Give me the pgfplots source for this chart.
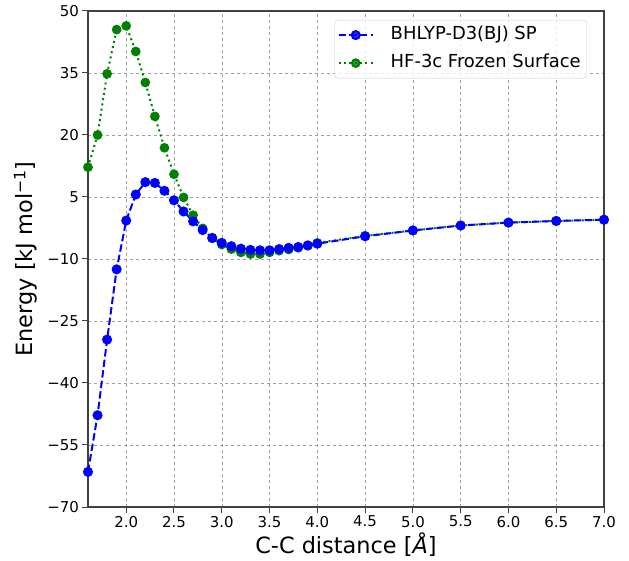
\documentclass[border=0pt]{standalone}
\usepackage{pgfplots}
\pgfplotsset{compat=1.18}
\usepackage{fontspec}
\setmainfont{DejaVu Sans}
\definecolor{mplgreen}{RGB}{0,128,0}
\definecolor{mplblue}{RGB}{0,0,255}
\newcommand{\legfont}{\fontsize{18}{21}\selectfont}

\pgfplotstableread{
x y
1.6 -61.5
1.7 -47.8
1.8 -29.5
1.9 -12.5
2.0 -0.7
2.1 5.6
2.2 8.6
2.3 8.4
2.4 6.5
2.5 4.2
2.6 1.5
2.7 -0.9
2.8 -3.0
2.9 -4.9
3.0 -6.1
3.1 -6.9
3.2 -7.5
3.3 -7.8
3.4 -7.9
3.5 -7.9
3.6 -7.6
3.7 -7.3
3.8 -7.1
3.9 -6.7
4.0 -6.3
4.5 -4.5
5.0 -3.1
5.5 -1.9
6.0 -1.2
6.5 -0.8
7.0 -0.5
}\bhlyp

\pgfplotstableread{
x y
1.6 12.2
1.7 20.0
1.8 34.8
1.9 45.5
2.0 46.4
2.1 40.2
2.2 32.7
2.3 24.5
2.4 16.9
2.5 10.5
2.6 4.9
2.7 0.6
2.8 -2.6
2.9 -5.0
3.0 -6.5
3.1 -7.6
3.2 -8.4
3.3 -8.8
3.4 -8.8
3.5 -8.4
3.6 -8.0
3.7 -7.7
3.8 -7.3
3.9 -6.8
4.0 -6.1
4.5 -4.4
5.0 -3.1
5.5 -1.9
6.0 -1.2
6.5 -0.8
7.0 -0.5
}\hfthreec

\begin{document}
\begin{tikzpicture}
\begin{axis}[
  scale only axis,
  width=516bp, height=496bp,
  xmin=1.6, xmax=7.0, ymin=-70, ymax=50,
  xtick={2,2.5,3,3.5,4,4.5,5,5.5,6,6.5,7},
  xticklabels={2.0,2.5,3.0,3.5,4.0,4.5,5.0,5.5,6.0,6.5,7.0},
  ytick={-70,-55,-40,-25,-10,5,20,35,50},
  yticklabels={−70,−55,−40,−25,−10,5,20,35,50},
  tick align=outside, tick pos=left,
  major tick length=5.5bp,
  tick style={black!75, line width=1bp},
  axis line style={black!75, line width=1.2bp},
  grid=major,
  major grid style={gray!75, dashed, line width=0.5bp},
  ticklabel style={font=\fontsize{15}{17}\selectfont},
  label style={font=\fontsize{22.5}{26}\selectfont},
  xlabel={C-C distance [\textit{Å}]},
  ylabel={Energy [kJ mol\textsuperscript{−1}]},
  xlabel style={yshift=1bp},
  ylabel style={yshift=3bp},
  legend style={at={(rel axis cs:0.967,0.982)}, anchor=north east,
    draw=black!20, rounded corners=3bp, fill=white, fill opacity=0.8, text opacity=1,
    font=\legfont, row sep=3bp, inner xsep=3bp, inner ysep=2.5bp,
    nodes={font=\legfont, inner xsep=3bp, inner ysep=4bp, text height=13bp, text depth=4bp},
    /tikz/every odd column/.append style={column sep=14bp}},
  legend image code/.code={%
    \draw[mark repeat=2,mark phase=2] plot coordinates {(0bp,0bp)(17bp,0bp)(34bp,0bp)};},
  legend cell align=left,
]
\coordinate (sw) at (rel axis cs:0,0);
\coordinate (ne) at (rel axis cs:1,1);
\addlegendimage{mplblue, line width=2bp, dash pattern=on 7.4bp off 3.2bp,
  mark=*, mark size=4bp, mark options={solid, fill=mplblue, draw=mplblue}}
\addlegendentry{BHLYP-D3(BJ) SP}
\addplot[mplgreen, line width=2bp, dash pattern=on 2bp off 3.3bp,
  mark=*, mark size=3.8bp, mark options={solid, fill=mplgreen, draw=mplgreen}]
  table[x=x,y=y] {\hfthreec};
\addlegendentry{HF-3c Frozen Surface}
\addplot[forget plot, mplblue, line width=2bp, dash pattern=on 7.4bp off 3.2bp,
  mark=*, mark size=4bp, mark options={solid, fill=mplblue, draw=mplblue}]
  table[x=x,y=y] {\bhlyp};
\end{axis}
\path ([shift={(-88bp,-54bp)}]sw) rectangle ([shift={(25bp,11bp)}]ne);
\end{tikzpicture}
\end{document}
